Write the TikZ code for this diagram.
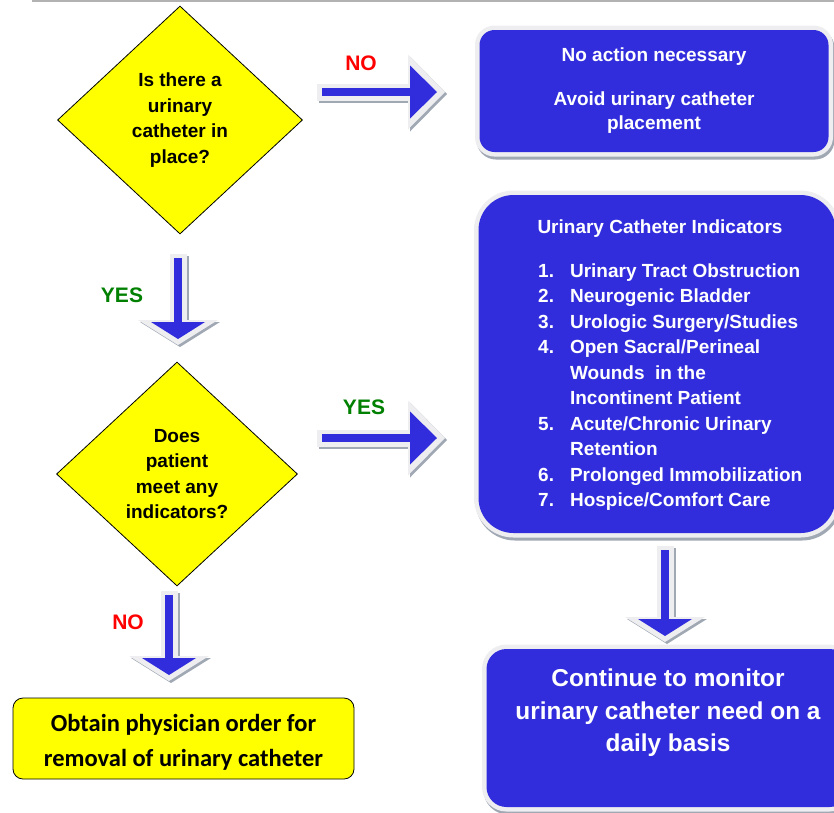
\documentclass[tikz,border=0pt]{standalone}
\usepackage{fontspec}
\setmainfont{Liberation Sans}
\newfontfamily\calibrifont{Carlito}
\usepackage{tikz}
\usetikzlibrary{shapes.geometric}
\usetikzlibrary{shadows}
\usetikzlibrary{arrows.meta}

\definecolor{boxblue}{RGB}{49,45,221}
\definecolor{qyellow}{RGB}{255,255,0}
\definecolor{rimgray}{RGB}{238,238,240}
\definecolor{shadowgray}{RGB}{160,168,180}
\definecolor{yesgreen}{RGB}{0,128,0}
\definecolor{nored}{RGB}{255,0,0}

\tikzset{
  question/.style={diamond, draw=black, line width=0.8pt, fill=qyellow, inner sep=0pt,
    align=center, font=\bfseries\fontsize{19}{25.5}\selectfont},
  bluebox/.style={rectangle, rounded corners=#1, fill=boxblue, text=white, inner sep=0pt, align=center,
    drop shadow={shadow xshift=1.5pt, shadow yshift=-3pt, opacity=1, fill=shadowgray,
      draw=shadowgray, line width=9pt},
    preaction={draw=rimgray, line width=9pt}},
  boxtext/.style={text=white, inner sep=0pt, align=center, font=\bfseries\fontsize{19}{25.5}\selectfont},
  yeslabel/.style={text=yesgreen, inner sep=0pt, font=\bfseries\fontsize{21}{24}\selectfont},
  nolabel/.style={text=nored, inner sep=0pt, font=\bfseries\fontsize{21}{24}\selectfont},
  hbody/.style={draw=boxblue, line width=8pt, -{Triangle[width=53pt,length=27pt,line width=0pt]}},
  hrim/.style={draw=rimgray, line width=17pt, shorten <=-5pt, shorten >=-8pt,
    -{Triangle[width=75pt,length=37pt,line width=0pt]}},
  vbody/.style={draw=boxblue, line width=8pt, -{Triangle[width=54pt,length=17pt,line width=0pt]}},
  vrim/.style={draw=rimgray, line width=17pt, shorten <=-4pt, shorten >=-6pt,
    -{Triangle[width=80pt,length=25pt,line width=0pt]}},
}

\begin{document}
\begin{tikzpicture}[x=1pt,y=-1pt]
    \useasboundingbox (0,0) rectangle (834,812);
    \clip (0,0) rectangle (834,812);
    \draw[draw=black!30, line width=2pt] (32,1) -- (834,1);

    % questions
    \node[question, minimum width=245, minimum height=228] (incath) at (180,120)
      {Is there a\\urinary\\catheter in\\place?};
    \node[question, minimum width=241, minimum height=224] (meets) at (177,474)
      {Does\\patient\\meet any\\indicators?};

    % outcomes
    \node[bluebox=15pt, minimum width=349, minimum height=122, font=\bfseries\fontsize{19}{24}\selectfont]
      (noaction) at (654,91) {No action necessary\\[20pt]Avoid urinary catheter\\placement};
    \node[bluebox=35pt, minimum width=357, minimum height=338] (indicators) at (657,364) {};
    \node[boxtext] (indtitle) at (660,229) {Urinary Catheter Indicators};
    \node[boxtext, anchor=north west, align=left] (indlist) at (538,259) {%
      \begin{tabular}{@{}r@{\hspace{16pt}}l@{}}
        1. & Urinary Tract Obstruction\\
        2. & Neurogenic Bladder\\
        3. & Urologic Surgery/Studies\\
        4. & Open Sacral/Perineal\\
           & Wounds\ \ in the\\
           & Incontinent Patient\\
        5. & Acute/Chronic Urinary\\
           & Retention\\
        6. & Prolonged Immobilization\\
        7. & Hospice/Comfort Care
      \end{tabular}};
    \node[bluebox=20pt, minimum width=363, minimum height=158] (monitor) at (668,728) {};
    \node[boxtext, font=\bfseries\fontsize{24.4}{32.5}\selectfont] (monitortext) at (668,713)
      {Continue to monitor\\urinary catheter need on a\\daily basis};
    \node[draw=black, line width=0.8pt, fill=qyellow, rounded corners=10pt, inner sep=0pt,
      minimum width=341, minimum height=81, align=center,
      font=\calibrifont\bfseries\fontsize{24.5}{35}\selectfont]
      (removal) at (183.5,738.5) {\rule{0pt}{24pt}Obtain physician order for\\removal of urinary catheter};

    % arrows
    \coordinate (noA) at (322,92);
    \coordinate (noB) at (437,92);
    \coordinate (yesA) at (178,258);
    \coordinate (yesB) at (178,339);
    \coordinate (metA) at (322,438);
    \coordinate (metB) at (437,438);
    \coordinate (notA) at (169,595);
    \coordinate (notB) at (169,675);
    \coordinate (monA) at (665,550);
    \coordinate (monB) at (665,636);
    \foreach \from/\to/\kind in {noA/noB/h, yesA/yesB/v, metA/metB/h, notA/notB/v, monA/monB/v} {
      \draw[\kind rim, draw=shadowgray] ([shift={(2,2)}]\from) -- ([shift={(2,2)}]\to);
      \draw[\kind rim] (\from) -- (\to);
      \draw[\kind body] (\from) -- (\to);
    }

    \node[nolabel] (nofirst) at (361,63) {NO};
    \node[yeslabel] (yesfirst) at (122,295) {YES};
    \node[yeslabel] (yessecond) at (364,407) {YES};
    \node[nolabel] (nosecond) at (128,622) {NO};
\end{tikzpicture}
\end{document}
